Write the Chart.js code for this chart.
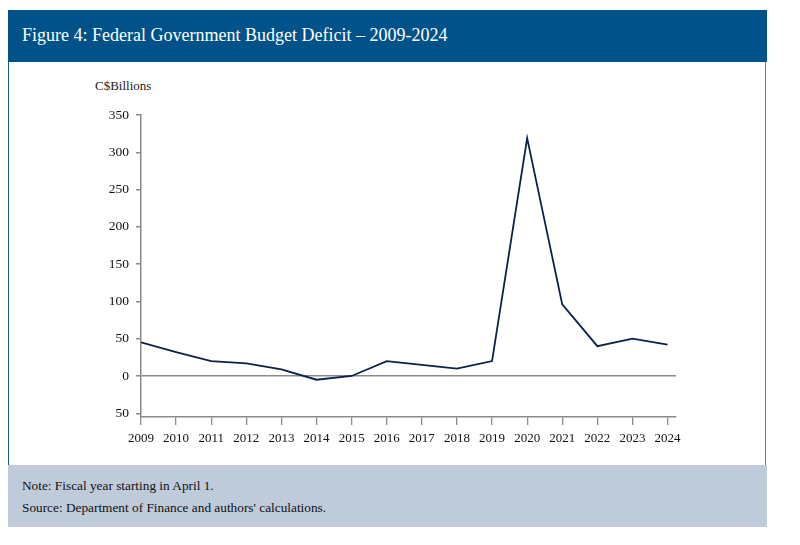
<!DOCTYPE html>
<html>
<head>
<meta charset="utf-8">
<script src="https://cdn.jsdelivr.net/npm/chart.js@4.4.0/dist/chart.umd.min.js"></script>
<style>
  body { margin: 0; background: #fff; font-family: "Liberation Serif", serif; }
  #frame { position: absolute; left: 8px; top: 10px; width: 759px; height: 517px; }
  #header { position: absolute; left: 0; top: 0; width: 759px; height: 52px; background: #02528a; }
  #header span { position: absolute; left: 14px; top: 15px; color: #fff; font-size: 18px; }
  #body { position: absolute; left: 0; top: 52px; width: 756px; height: 403px; border-left: 1.5px solid #1b5a8e; border-right: 1.5px solid #3f7fb5; }
  #unit { position: absolute; left: 87px; top: 68px; font-size: 13px; color: #222; }
  #note { position: absolute; left: 0; top: 455px; width: 759px; height: 62px; background: #bfcadb; }
  #note div { position: absolute; left: 14px; font-size: 13.3px; color: #111; }
  canvas { position: absolute; left: 0; top: 52px; }
</style>
</head>
<body>
<div id="frame">
  <div id="header"><span>Figure 4: Federal Government Budget Deficit – 2009-2024</span></div>
  <div id="body"></div>
  <div id="unit">C$Billions</div>
  <canvas id="grafico" width="759" height="403"></canvas>
  <div id="note">
    <div style="top:13px">Note: Fiscal year starting in April 1.</div>
    <div style="top:35px">Source: Department of Finance and authors' calculations.</div>
  </div>
</div>
<script>
// Dados
const anos = [2009, 2010, 2011, 2012, 2013, 2014, 2015, 2016, 2017, 2018, 2019, 2020, 2021, 2022, 2023, 2024];
const deficit = [45, 32, 20, 17, 9, -5, 0, 20, 15, 10, 20, 319, 96, 40, 50, 42];
const yTicks = [-50, 0, 50, 100, 150, 200, 250, 300, 350];
const yTickLabels = ['50', '0', '50', '100', '150', '200', '250', '300', '350'];

const cinza = '#8a8a8a';

new Chart(document.getElementById('grafico'), {
    type: 'line',
    data: {
        datasets: [{
            data: anos.map((a, i) => ({ x: a, y: deficit[i] })),
            borderColor: '#0c2148',
            borderWidth: 1.8,
            pointRadius: 0,
            tension: 0,
            fill: false
        }]
    },
    options: {
        responsive: false,
        animation: false,
        layout: { padding: { left: 93, right: 91, top: 53, bottom: 8 } },
        plugins: { legend: { display: false }, tooltip: { enabled: false } },
        scales: {
            x: {
                type: 'linear',
                min: 2009,
                max: 2024.24,
                afterBuildTicks: (s) => { s.ticks = anos.map(v => ({ value: v })); },
                afterFit: (s) => { s.height = 40; },
                ticks: {
                    callback: (v) => String(v),
                    color: '#111',
                    font: { family: 'Liberation Serif', size: 13 },
                    padding: 6,
                    maxRotation: 0,
                    autoSkip: false
                },
                grid: { drawOnChartArea: false, tickLength: 8, color: cinza, lineWidth: 1.3 },
                border: { color: cinza, width: 1.5 }
            },
            y: {
                min: -55,
                max: 350,
                afterBuildTicks: (s) => { s.ticks = yTicks.map(v => ({ value: v })); },
                afterFit: (s) => { s.width = 40; },
                ticks: {
                    callback: (v) => yTickLabels[yTicks.indexOf(v)],
                    color: '#111',
                    font: { family: 'Liberation Serif', size: 13.5 },
                    padding: 7
                },
                grid: {
                    drawOnChartArea: true,
                    tickLength: 5,
                    tickColor: cinza,
                    color: (c) => c.tick && c.tick.value === 0 ? cinza : 'rgba(0,0,0,0)',
                    lineWidth: 1.5
                },
                border: { color: cinza, width: 1.5 }
            }
        }
    }
});
</script>
</body>
</html>
